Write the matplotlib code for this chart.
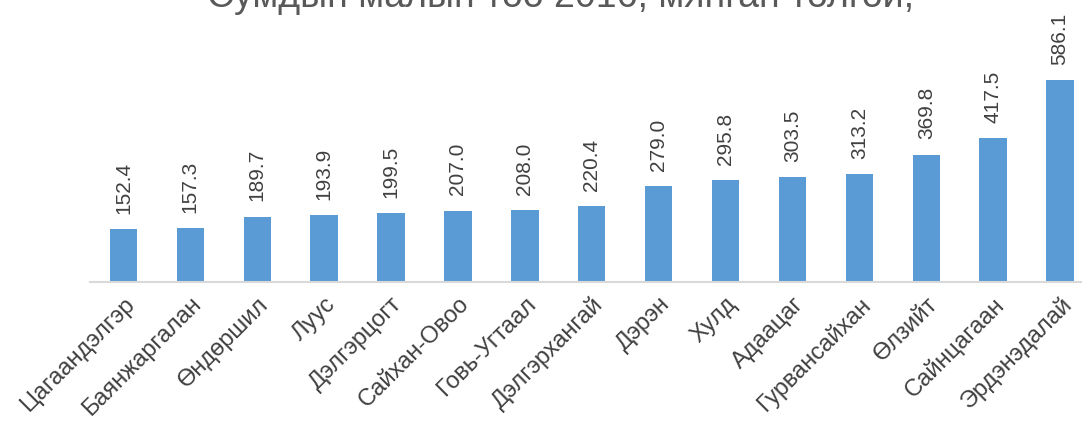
import matplotlib.pyplot as plt

plt.rcParams['font.family'] = ['Liberation Sans', 'DejaVu Sans']

title = "Сумдын малын тоо 2016, мянган толгой,"
soums = ["Цагаандэлгэр", "Баянжаргалан", "Өндөршил", "Луус", "Дэлгэрцогт",
         "Сайхан-Овоо", "Говь-Угтаал", "Дэлгэрхангай", "Дэрэн", "Хулд",
         "Адаацаг", "Гурвансайхан", "Өлзийт", "Сайнцагаан", "Эрдэнэдалай"]
livestock = [152.4, 157.3, 189.7, 193.9, 199.5, 207.0, 208.0, 220.4,
             279.0, 295.8, 303.5, 313.2, 369.8, 417.5, 586.1]

W, H = 1082, 421
fig = plt.figure(figsize=(W / 100, H / 100), dpi=100)
left = 90 / W
width = 15 * 66.9 / W
bottom = (H - 282) / H
ax = fig.add_axes([left, bottom, width, 1 - bottom])

x = range(len(soums))
ax.bar(x, livestock, width=0.41, color='#5b9bd5', zorder=2)
ax.set_xlim(-0.5, len(soums) - 0.5)
ax.set_ylim(0, 282 / 0.3447)

for xi, v in zip(x, livestock):
    ax.annotate(f"{v:.1f}", (xi, v), xytext=(0, 11), textcoords='offset points',
                rotation=90, ha='center', va='bottom',
                fontsize=15, color='#404040')

ax.set_xticks(list(x))
ax.set_xticklabels(soums, rotation=45, ha='right', rotation_mode='anchor',
                   fontsize=17, color='#404040')
ax.tick_params(axis='x', length=0, pad=8)
ax.set_yticks([])
for s in ['top', 'right', 'left']:
    ax.spines[s].set_visible(False)
ax.spines['bottom'].set_color('#d9d9d9')
ax.spines['bottom'].set_linewidth(1.5)

# title is cut off by the top edge, like in the source picture
fig.text(0.518, 1 - 7 / H, title, ha='center', va='baseline',
         fontsize=27, color='#595959')

plt.savefig('out.png', dpi=100)
